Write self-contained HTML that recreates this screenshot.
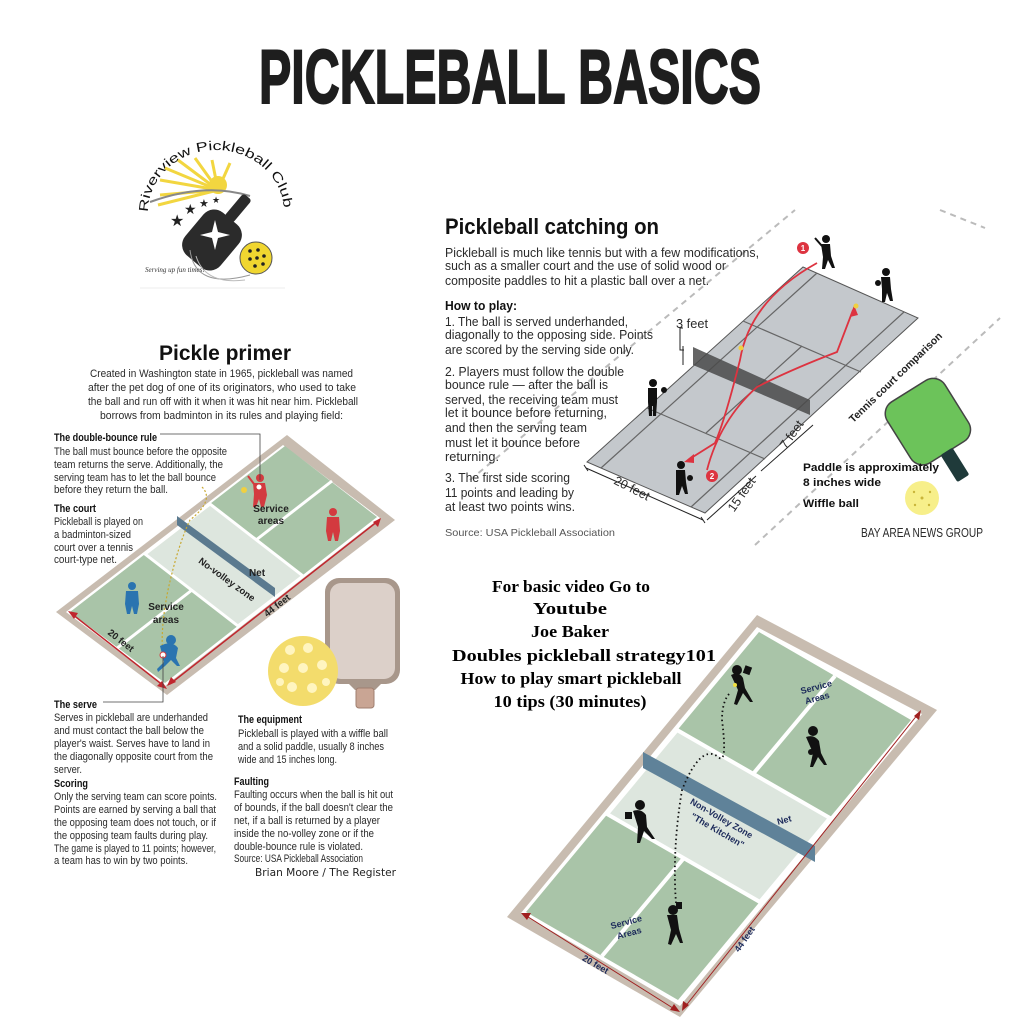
<!DOCTYPE html>
<html><head><meta charset="utf-8"><style>
html,body{margin:0;padding:0;background:#fff;}
svg{display:block;}
.b{font-family:"Liberation Sans",sans-serif;font-size:11px;fill:#2a2a2a;}
.h{font-family:"Liberation Sans",sans-serif;font-size:11px;font-weight:bold;fill:#111;}
.r{font-family:"Liberation Sans",sans-serif;font-size:12.5px;fill:#2a2a2a;}
.s{font-family:"Liberation Serif",serif;font-weight:bold;font-size:17px;fill:#000;}
.n{font-family:"Liberation Sans",sans-serif;font-weight:bold;font-size:9px;fill:#1c2a5a;}
.l{font-family:"Liberation Sans",sans-serif;font-weight:bold;font-size:10px;fill:#222;}
</style></head><body>
<svg width="1024" height="1024" viewBox="0 0 1024 1024" xmlns="http://www.w3.org/2000/svg">
<rect width="1024" height="1024" fill="#fff"/>
<text x="259" y="103" textLength="502" lengthAdjust="spacingAndGlyphs" font-family="Liberation Sans, sans-serif" font-weight="bold" font-size="76" fill="#1e1e1e" stroke="#1e1e1e" stroke-width="2">PICKLEBALL BASICS</text>

<g>
<defs><path id="arc" d="M148,212 A68,62 0 0 1 284,212"/></defs>
<text font-family="Liberation Sans, sans-serif" font-size="13" fill="#111"><textPath href="#arc" textLength="200" lengthAdjust="spacingAndGlyphs">Riverview Pickleball Club</textPath></text>
<g stroke="#f2d640" stroke-width="3">
<line x1="218" y1="190" x2="160" y2="180"/><line x1="218" y1="190" x2="165" y2="168"/><line x1="218" y1="190" x2="178" y2="160"/><line x1="218" y1="190" x2="195" y2="158"/><line x1="218" y1="190" x2="160" y2="195"/><line x1="218" y1="190" x2="158" y2="205"/><line x1="218" y1="190" x2="212" y2="160"/><line x1="218" y1="190" x2="230" y2="163"/></g>
<circle cx="218" cy="185" r="9" fill="#f2d640"/>
<path d="M150,202 Q205,182 250,196" stroke="#888" stroke-width="2" fill="none"/>
<g fill="#222"><text x="170" y="226" font-size="16" font-family="DejaVu Sans">★</text><text x="184" y="214" font-size="14" font-family="DejaVu Sans">★</text><text x="199" y="207" font-size="11" font-family="DejaVu Sans">★</text><text x="212" y="203" font-size="9" font-family="DejaVu Sans">★</text></g>
<g transform="rotate(40 212 240)"><rect x="189" y="212" width="46" height="56" rx="14" fill="#2b2b2b"/><rect x="206" y="184" width="11" height="30" rx="3" fill="#2b2b2b"/></g>
<path d="M212,232 l3,-12 l3,12 l12,3 l-12,3 l-3,12 l-3,-12 l-12,-3z" fill="#fff"/>
<circle cx="256" cy="258" r="16" fill="#f0d630" stroke="#555" stroke-width="1"/>
<g fill="#222"><circle cx="250" cy="251" r="1.8"/><circle cx="258" cy="250" r="1.8"/><circle cx="264" cy="256" r="1.8"/><circle cx="250" cy="259" r="1.8"/><circle cx="257" cy="258" r="1.8"/><circle cx="263" cy="264" r="1.8"/><circle cx="255" cy="266" r="1.8"/></g>
<path d="M190,250 Q195,290 250,275" stroke="#999" fill="none"/><path d="M196,256 Q205,285 245,280" stroke="#bbb" fill="none"/>
<text x="145" y="272" font-family="Liberation Serif, serif" font-style="italic" font-size="7" fill="#333">Serving up fun times!</text>
<line x1="140" y1="288" x2="285" y2="288" stroke="#eee"/>
</g>

<text x="225" y="360" text-anchor="middle" font-family="Liberation Sans, sans-serif" font-weight="bold" font-size="21" fill="#111" textLength="132" lengthAdjust="spacingAndGlyphs">Pickle primer</text>
<g class="b">
<text x="90" y="377" textLength="263" lengthAdjust="spacingAndGlyphs">Created in Washington state in 1965, pickleball was named</text>
<text x="88" y="391" textLength="268" lengthAdjust="spacingAndGlyphs">after the pet dog of one of its originators, who used to take</text>
<text x="88" y="405" textLength="270" lengthAdjust="spacingAndGlyphs">the ball and run off with it when it was hit near him. Pickleball</text>
<text x="100" y="419" textLength="243" lengthAdjust="spacingAndGlyphs">borrows from badminton in its rules and playing field:</text>
</g>

<polygon points="56,612 287,435 395,520 167,695" fill="#c8bcb0"/>
<polygon points="66,612 283,445 380,518 165,686" fill="#fff"/>
<polygon points="70,612 285,446 377,517 165,683" fill="#a9c4a8"/>
<polygon points="145,554 210,504 303,576 238,626" fill="#dde6de" stroke="#fff" stroke-width="3"/>
<line x1="116" y1="649" x2="192" y2="590" stroke="#fff" stroke-width="3"/>
<line x1="256" y1="540" x2="332" y2="481" stroke="#fff" stroke-width="3"/>
<polygon points="177,516 275,588 275,597 177,525" fill="#5b7a8f"/>
<path d="M202,487 Q215,500 190,520 Q178,545 168,590 Q160,630 163,655" stroke="#c8a830" stroke-dasharray="2,2" fill="none" stroke-width="1.2"/>
<circle cx="244" cy="490" r="3" fill="#f0d040"/>
<g stroke="#c0262e" stroke-width="1.5" fill="none">
<line x1="72" y1="614" x2="164" y2="686"/><line x1="170" y1="684" x2="378" y2="521"/></g>
<g fill="#c0262e"><polygon points="68,611 78,613 74,619"/><polygon points="167,689 157,686 162,681"/><polygon points="167,686 171,677 176,682"/><polygon points="381,518 378,527 373,522"/></g>
<g fill="#d33a3f"><circle cx="260" cy="478" r="4"/><path d="M253,483 h12 l2,12 l-3,12 h-3 l-2,-8 l-3,8 h-3 l1,-13z"/><line x1="254" y1="484" x2="248" y2="476" stroke="#d33a3f" stroke-width="2"/>
<circle cx="333" cy="512" r="4"/><path d="M327,517 h12 l1,14 l-2,10 h-3 l-2,-9 l-2,9 h-3 l-2,-10z"/></g>
<circle cx="259" cy="487" r="3" fill="#fff" stroke="#d33a3f"/>
<g fill="#2a74b0"><circle cx="132" cy="586" r="4"/><path d="M126,591 h12 l1,13 l-2,10 h-3 l-2,-8 l-2,8 h-3 l-2,-10z"/>
<circle cx="171" cy="640" r="5"/><path d="M160,646 q12,-6 18,2 l-2,10 l4,8 h-3 l-6,-6 l-6,6 l-7,6 l-1,-3 l7,-7z"/></g>
<circle cx="163" cy="655" r="3" fill="#fff" stroke="#d33a3f"/>
<g class="l"><text x="271" y="512" text-anchor="middle">Service</text><text x="271" y="524" text-anchor="middle">areas</text>
<text x="166" y="610" text-anchor="middle">Service</text><text x="166" y="623" text-anchor="middle">areas</text>
<text x="257" y="576" text-anchor="middle">Net</text>
<text transform="translate(225,582) rotate(36)" text-anchor="middle" font-size="9.5">No-volley zone</text>
<text transform="translate(119,643) rotate(38)" text-anchor="middle" font-size="9.5">20 feet</text>
<text transform="translate(279,608) rotate(-38)" text-anchor="middle" font-size="9.5">44 feet</text></g>
<polyline points="160,434 260,434 260,480" fill="none" stroke="#444" stroke-width="0.8"/>
<polyline points="103,702 163,702 163,656" fill="none" stroke="#444" stroke-width="0.8"/>
<rect x="325" y="578" width="75" height="106" rx="14" fill="#a8978b"/>
<rect x="330" y="583" width="65" height="96" rx="11" fill="#dcd0c9"/>
<path d="M345,680 L355,690 h20 l10,-10z" fill="#a8978b"/>
<rect x="356" y="688" width="18" height="20" rx="3" fill="#c9a594" stroke="#a07f70" stroke-width="1"/>
<circle cx="303" cy="671" r="35" fill="#f3dc6c"/>
<g fill="#fff5c0"><circle cx="290" cy="650" r="5"/><circle cx="308" cy="648" r="5"/><circle cx="284" cy="668" r="5"/><circle cx="303" cy="668" r="5"/><circle cx="322" cy="665" r="5"/><circle cx="292" cy="687" r="5"/><circle cx="312" cy="688" r="5"/><circle cx="326" cy="682" r="4"/><circle cx="280" cy="682" r="4"/></g>

<g>
<text class="h" x="54" y="441" textLength="103" lengthAdjust="spacingAndGlyphs">The double-bounce rule</text>
<text class="b" x="54" y="455" textLength="173" lengthAdjust="spacingAndGlyphs">The ball must bounce before the opposite</text>
<text class="b" x="54" y="468" textLength="169" lengthAdjust="spacingAndGlyphs">team returns the serve. Additionally, the</text>
<text class="b" x="54" y="481" textLength="162" lengthAdjust="spacingAndGlyphs">serving team has to let the ball bounce</text>
<text class="b" x="54" y="493" textLength="114" lengthAdjust="spacingAndGlyphs">before they return the ball.</text>
<text class="h" x="54" y="512" textLength="42" lengthAdjust="spacingAndGlyphs">The court</text>
<text class="b" x="54" y="525" textLength="89" lengthAdjust="spacingAndGlyphs">Pickleball is played on</text>
<text class="b" x="54" y="538" textLength="77" lengthAdjust="spacingAndGlyphs">a badminton-sized</text>
<text class="b" x="54" y="551" textLength="79" lengthAdjust="spacingAndGlyphs">court over a tennis</text>
<text class="b" x="54" y="563" textLength="63" lengthAdjust="spacingAndGlyphs">court-type net.</text>
<text class="h" x="54" y="708" textLength="43" lengthAdjust="spacingAndGlyphs">The serve</text>
<text class="b" x="54" y="721" textLength="154" lengthAdjust="spacingAndGlyphs">Serves in pickleball are underhanded</text>
<text class="b" x="54" y="734" textLength="150" lengthAdjust="spacingAndGlyphs">and must contact the ball below the</text>
<text class="b" x="54" y="747" textLength="156" lengthAdjust="spacingAndGlyphs">player's waist. Serves have to land in</text>
<text class="b" x="54" y="760" textLength="159" lengthAdjust="spacingAndGlyphs">the diagonally opposite court from the</text>
<text class="b" x="54" y="773" textLength="28" lengthAdjust="spacingAndGlyphs">server.</text>
<text class="h" x="54" y="787" textLength="34" lengthAdjust="spacingAndGlyphs">Scoring</text>
<text class="b" x="54" y="800" textLength="163" lengthAdjust="spacingAndGlyphs">Only the serving team can  score points.</text>
<text class="b" x="54" y="813" textLength="162" lengthAdjust="spacingAndGlyphs">Points are earned by serving a ball that</text>
<text class="b" x="54" y="826" textLength="162" lengthAdjust="spacingAndGlyphs">the opposing team does not touch, or if</text>
<text class="b" x="54" y="839" textLength="154" lengthAdjust="spacingAndGlyphs">the opposing team faults during play.</text>
<text class="b" x="54" y="852" textLength="162" lengthAdjust="spacingAndGlyphs">The game is played to 11 points; however,</text>
<text class="b" x="54" y="864" textLength="134" lengthAdjust="spacingAndGlyphs">a team has to win by two points.</text>
<text class="h" x="238" y="723" textLength="64" lengthAdjust="spacingAndGlyphs">The equipment</text>
<text class="b" x="238" y="737" textLength="150" lengthAdjust="spacingAndGlyphs">Pickleball is played with a wiffle ball</text>
<text class="b" x="238" y="750" textLength="146" lengthAdjust="spacingAndGlyphs">and a solid paddle, usually 8 inches</text>
<text class="b" x="238" y="763" textLength="99" lengthAdjust="spacingAndGlyphs">wide and 15 inches long.</text>
<text class="h" x="234" y="785" textLength="35" lengthAdjust="spacingAndGlyphs">Faulting</text>
<text class="b" x="234" y="798" textLength="159" lengthAdjust="spacingAndGlyphs">Faulting occurs when  the ball is hit out</text>
<text class="b" x="234" y="811" textLength="159" lengthAdjust="spacingAndGlyphs">of bounds, if the ball doesn't clear the</text>
<text class="b" x="234" y="824" textLength="146" lengthAdjust="spacingAndGlyphs">net, if a ball is returned by a player</text>
<text class="b" x="234" y="837" textLength="140" lengthAdjust="spacingAndGlyphs">inside the no-volley zone or if the</text>
<text class="b" x="234" y="850" textLength="129" lengthAdjust="spacingAndGlyphs">double-bounce rule is violated.</text>
<text class="b" x="234" y="862" textLength="129" lengthAdjust="spacingAndGlyphs" font-size="9.5" fill="#555">Source: USA Pickleball Association</text>
<text x="255" y="876" textLength="141" lengthAdjust="spacingAndGlyphs" font-family="DejaVu Sans, sans-serif" font-size="11" fill="#222">Brian Moore / The Register</text>
</g>

<g stroke="#bbb" stroke-width="2" stroke-dasharray="6,5" fill="none">
<line x1="470" y1="480" x2="795" y2="210"/>
<line x1="755" y1="545" x2="1000" y2="318"/>
<line x1="940" y1="210" x2="985" y2="228"/>
</g>
<polygon points="587,462 803,267 918,318 705,513" fill="#c4c8cc" stroke="#555" stroke-width="1"/>
<g stroke="#666" stroke-width="1.2" fill="none">
<line x1="647" y1="408" x2="765" y2="459"/>
<line x1="743" y1="321" x2="861" y2="372"/>
<line x1="601" y1="468" x2="817" y2="273"/>
<line x1="691" y1="507" x2="904" y2="312"/>
<line x1="706" y1="433" x2="802" y2="346"/>
</g>
<polygon points="693,347 810,400 810,415 693,365" fill="#4a4a4a" opacity="0.85"/>
<g stroke="#222" stroke-width="1" fill="none"><polyline points="683,328 680,328 680,350 684,350"/><line x1="683" y1="346" x2="683" y2="365"/></g>
<text class="r" x="676" y="328" font-size="12" textLength="32" lengthAdjust="spacingAndGlyphs">3 feet</text>
<g stroke="#dd3340" stroke-width="1.8" fill="none">
<path d="M817,263 Q750,300 740,360 Q725,420 715,443 L688,460"/>
<path d="M707,470 Q720,420 757,387 Q790,370 837,352 L853,310"/>
</g>
<g fill="#dd3340"><polygon points="684,462 694,454 694,463"/><polygon points="854,305 850,317 858,315"/>
<circle cx="803" cy="248" r="6"/><circle cx="712" cy="476" r="6"/></g>
<g fill="#fff" font-family="Liberation Sans,sans-serif" font-weight="bold" font-size="8" text-anchor="middle"><text x="803" y="251">1</text><text x="712" y="479">2</text></g>
<circle cx="741" cy="348" r="2.5" fill="#f0d040"/><circle cx="856" cy="306" r="2.5" fill="#f0d040"/>
<g fill="#111"><circle cx="826" cy="239" r="4"/><path d="M821,244 h9 l1,12 l4,12 h-3 l-4,-8 l-3,9 h-3 l1,-12z"/><line x1="822" y1="246" x2="815" y2="238" stroke="#111" stroke-width="2"/>
<circle cx="886" cy="272" r="4"/><path d="M881,277 h9 l1,12 l2,12 h-3 l-3,-8 l-2,9 h-3 l0,-13z"/><circle cx="878" cy="283" r="3"/>
<circle cx="653" cy="383" r="4"/><path d="M648,388 h9 l0,14 l-1,14 h-3 v-10 h-1 v10 h-3 l-1,-14z"/><circle cx="664" cy="390" r="3"/>
<circle cx="681" cy="465" r="4"/><path d="M676,470 h9 l1,12 l2,12 h-3 l-3,-8 l-3,9 h-3 l0,-13z"/><circle cx="690" cy="478" r="3"/></g>
<g stroke="#222" stroke-width="1" fill="none">
<line x1="586" y1="468" x2="703" y2="520"/><line x1="707" y1="520" x2="756" y2="476"/><line x1="761" y1="471" x2="813" y2="425"/>
<line x1="584" y1="465" x2="588" y2="471"/><line x1="701" y1="517" x2="705" y2="523"/></g>
<g class="r" font-size="11"><text transform="translate(630,492) rotate(27)" text-anchor="middle">20 feet</text>
<text transform="translate(745,497) rotate(-55)" text-anchor="middle">15 feet</text>
<text transform="translate(795,437) rotate(-55)" text-anchor="middle">7 feet</text></g>
<text transform="translate(898,380) rotate(-44)" text-anchor="middle" font-family="Liberation Sans,sans-serif" font-weight="bold" font-size="10.5" fill="#222">Tennis court comparison</text>
<g transform="rotate(-32 930 425)"><rect x="896" y="385" width="68" height="72" rx="14" fill="#6cc35a" stroke="#444" stroke-width="1.5"/><rect x="923" y="456" width="14" height="32" rx="2" fill="#1f3a3a"/></g>
<circle cx="922" cy="498" r="17" fill="#f7ef8a"/>
<g fill="#c9b53a"><circle cx="922" cy="498" r="1.5"/><circle cx="914" cy="492" r="1.2"/><circle cx="930" cy="492" r="1.2"/><circle cx="915" cy="505" r="1.2"/><circle cx="929" cy="505" r="1.2"/></g>
<g class="h" font-size="12"><text x="803" y="471" textLength="136" lengthAdjust="spacingAndGlyphs">Paddle is approximately</text><text x="803" y="486" textLength="78" lengthAdjust="spacingAndGlyphs">8 inches wide</text><text x="803" y="507" textLength="56" lengthAdjust="spacingAndGlyphs">Wiffle ball</text></g>
<text x="861" y="537" class="r" font-size="10.5" textLength="122" lengthAdjust="spacingAndGlyphs" fill="#444">BAY AREA NEWS GROUP</text>
<text x="445" y="234" font-family="Liberation Sans,sans-serif" font-weight="bold" font-size="22" fill="#111" textLength="214" lengthAdjust="spacingAndGlyphs">Pickleball catching on</text>
<g class="r">
<text x="445" y="257" textLength="314" lengthAdjust="spacingAndGlyphs">Pickleball is much like tennis but with a few modifications,</text>
<text x="445" y="270" textLength="281" lengthAdjust="spacingAndGlyphs">such as a smaller court and the use of solid wood or</text>
<text x="445" y="285" textLength="264" lengthAdjust="spacingAndGlyphs">composite paddles to hit a plastic ball over a net.</text>
<text x="445" y="310" font-weight="bold" fill="#111" textLength="72" lengthAdjust="spacingAndGlyphs">How to play:</text>
<text x="445" y="326" textLength="183" lengthAdjust="spacingAndGlyphs">1. The ball is served underhanded,</text>
<text x="445" y="339" textLength="208" lengthAdjust="spacingAndGlyphs">diagonally to the opposing side. Points</text>
<text x="445" y="354" textLength="189" lengthAdjust="spacingAndGlyphs">are scored by the serving side only.</text>
<text x="445" y="376" textLength="179" lengthAdjust="spacingAndGlyphs">2. Players must follow the double</text>
<text x="445" y="389" textLength="163" lengthAdjust="spacingAndGlyphs">bounce rule — after the ball is</text>
<text x="445" y="404" textLength="173" lengthAdjust="spacingAndGlyphs">served, the receiving team must</text>
<text x="445" y="417" textLength="162" lengthAdjust="spacingAndGlyphs">let it bounce before returning,</text>
<text x="445" y="432" textLength="142" lengthAdjust="spacingAndGlyphs">and then the serving team</text>
<text x="445" y="447" textLength="135" lengthAdjust="spacingAndGlyphs">must let it bounce before</text>
<text x="445" y="461" textLength="54" lengthAdjust="spacingAndGlyphs">returning.</text>
<text x="445" y="482" textLength="125" lengthAdjust="spacingAndGlyphs">3. The first side scoring</text>
<text x="445" y="497" textLength="129" lengthAdjust="spacingAndGlyphs">11 points and leading by</text>
<text x="445" y="511" textLength="130" lengthAdjust="spacingAndGlyphs">at least two points wins.</text>
<text x="445" y="536" font-size="10.5" fill="#555" textLength="170" lengthAdjust="spacingAndGlyphs">Source: USA Pickleball Association</text>
</g>

<g class="s" text-anchor="middle">
<text x="571" y="592" textLength="158" lengthAdjust="spacingAndGlyphs">For basic video Go to</text>
<text x="570" y="614" textLength="74" lengthAdjust="spacingAndGlyphs">Youtube</text>
<text x="570" y="637" textLength="78" lengthAdjust="spacingAndGlyphs">Joe Baker</text>
<text x="584" y="661" textLength="264" lengthAdjust="spacingAndGlyphs">Doubles pickleball strategy101</text>
<text x="571" y="684" textLength="221" lengthAdjust="spacingAndGlyphs">How to play smart pickleball</text>
<text x="570" y="707" textLength="153" lengthAdjust="spacingAndGlyphs">10 tips (30 minutes)</text>
</g>

<polygon points="507,917 757,615 937,710 680,1017" fill="#c8bcb0"/>
<polygon points="521,913 757,627 922,714 680,1006" fill="#fff"/>
<polygon points="526,912 759,632 911,720 678,1000" fill="#a9c4a8"/>
<polygon points="607,814 677,730 830,818 760,902" fill="#dde6de" stroke="#fff" stroke-width="4"/>
<line x1="602" y1="956" x2="684" y2="858" stroke="#fff" stroke-width="4"/>
<line x1="753" y1="774" x2="835" y2="676" stroke="#fff" stroke-width="4"/>
<polygon points="643,752 815,846 815,862 643,768" fill="#5f8299"/>
<path d="M676,903 Q672,850 682,790 Q700,745 717,756 Q728,768 722,720 Q722,700 731,692" stroke="#111" stroke-width="1.8" stroke-dasharray="1.5,3" fill="none"/>
<g stroke="#a02020" stroke-width="1" fill="none"><line x1="525" y1="915" x2="676" y2="1010"/><line x1="684" y1="1008" x2="918" y2="714"/></g>
<g fill="#a02020"><polygon points="521,913 531,913 527,920"/><polygon points="680,1012 670,1010 674,1004"/><polygon points="682,1011 683,1001 689,1005"/><polygon points="921,710 919,720 914,716"/></g>
<g fill="#111">
<circle cx="737" cy="670" r="5"/><path d="M731,675 q8,-4 12,3 l2,10 l8,14 h-3 l-7,-9 l-6,12 l-3,-1 l4,-14z"/><rect x="744" y="666" width="7" height="8" transform="rotate(20 747 670)"/>
<circle cx="813" cy="731" r="5"/><path d="M806,737 q8,-3 13,4 l2,12 l6,12 h-3 l-6,-8 l-5,10 h-3 l3,-14z"/><circle cx="811" cy="752" r="3"/>
<circle cx="640" cy="805" r="5"/><path d="M633,811 q8,-3 13,4 l1,12 l8,12 h-3 l-8,-8 l-4,12 h-3 l1,-16z"/><rect x="625" y="812" width="7" height="7"/>
<circle cx="673" cy="910" r="5"/><path d="M667,915 h10 l2,14 l4,14 h-3 l-4,-9 l-5,11 l-3,-1 l3,-14z"/><rect x="676" y="902" width="6" height="7"/>
</g>
<circle cx="735" cy="685" r="2" fill="#f0e040"/>
<g class="n"><text transform="translate(817,690) rotate(-15)" text-anchor="middle">Service</text><text transform="translate(818,701) rotate(-15)" text-anchor="middle">Areas</text>
<text transform="translate(627,925) rotate(-15)" text-anchor="middle">Service</text><text transform="translate(630,936) rotate(-15)" text-anchor="middle">Areas</text>
<text transform="translate(785,823) rotate(-15)" text-anchor="middle">Net</text>
<text transform="translate(720,821) rotate(30)" text-anchor="middle">Non-Volley Zone</text>
<text transform="translate(716,833) rotate(30)" text-anchor="middle">"The Kitchen"</text>
<text transform="translate(594,967) rotate(30)" text-anchor="middle">20 feet</text>
<text transform="translate(747,941) rotate(-55)" text-anchor="middle">44 feet</text></g>
</svg>
</body></html>
